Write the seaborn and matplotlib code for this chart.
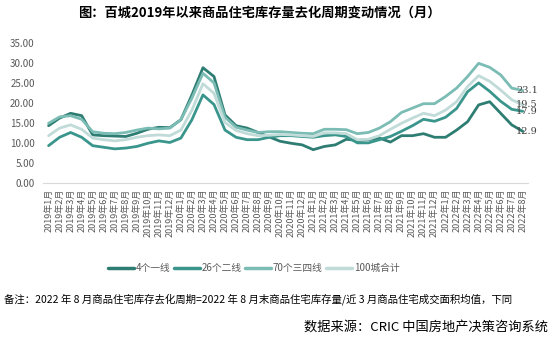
import matplotlib
matplotlib.use("Agg")
import matplotlib.pyplot as plt
import seaborn as sns
import pandas as pd
import numpy as np

years = [2019] * 12 + [2020] * 12 + [2021] * 12 + [2022] * 8
months = list(range(1, 13)) * 3 + list(range(1, 9))
labels = [f"{y}年{m}月" for y, m in zip(years, months)]

tier1 = [14.3, 16.2, 17.4, 16.8, 12.0, 11.8, 11.7, 11.6, 12.4, 13.4, 13.9, 13.8,
         15.8, 22.0, 28.8, 26.6, 17.0, 14.3, 13.7, 12.6, 11.5, 10.4, 9.9, 9.5,
         8.3, 9.1, 9.5, 10.9, 10.6, 10.8, 11.2, 10.2, 11.8, 11.8, 12.3, 11.4,
         11.4, 13.2, 15.3, 19.5, 20.3, 17.4, 14.5, 12.9]
tier2 = [9.3, 11.4, 12.6, 11.4, 9.3, 8.9, 8.5, 8.7, 9.1, 9.9, 10.5, 10.1,
         11.2, 15.8, 22.0, 19.6, 13.2, 11.4, 10.8, 10.8, 11.4, 11.8, 11.8, 11.6,
         11.4, 11.8, 12.0, 11.6, 10.0, 10.0, 10.8, 11.6, 12.9, 14.3, 15.9, 15.4,
         16.4, 18.6, 22.8, 25.0, 22.9, 20.4, 18.4, 17.9]
tier3 = [14.9, 16.5, 16.8, 15.9, 12.8, 12.4, 12.3, 12.6, 13.2, 13.7, 13.5, 13.7,
         15.8, 21.2, 27.4, 25.0, 16.4, 13.9, 13.2, 12.6, 12.8, 12.8, 12.6, 12.4,
         12.3, 13.4, 13.4, 13.3, 12.3, 12.6, 13.7, 15.3, 17.6, 18.7, 19.8, 19.8,
         21.6, 23.7, 26.6, 29.9, 28.9, 27.0, 23.7, 23.1]
total = [11.8, 13.7, 14.5, 13.4, 11.2, 10.8, 10.5, 10.8, 11.4, 11.8, 12.0, 11.8,
         13.2, 18.2, 24.8, 22.4, 15.1, 13.1, 12.3, 11.8, 11.9, 12.1, 12.0, 11.8,
         11.6, 12.5, 12.5, 12.3, 10.8, 10.9, 11.8, 13.4, 14.9, 16.2, 17.4, 16.8,
         18.2, 20.3, 24.1, 26.8, 25.4, 23.2, 20.8, 19.5]

series_names = ["4个一线", "26个二线", "70个三四线", "100城合计"]
end_labels = ["12.9", "17.9", "23.1", "19.5"]
colors = ["#2E7D73", "#3A968C", "#7BBCB5", "#C0DBD8"]

sns.set_theme(style="white")
plt.rcParams['font.family'] = ['Noto Sans CJK SC', 'DejaVu Sans']

rows = []
for name, vals in zip(series_names, [tier1, tier2, tier3, total]):
    for i, v in enumerate(vals):
        rows.append({"idx": i, "value": v, "series": name})
df = pd.DataFrame(rows)

fig = plt.figure(figsize=(5.52, 3.38), dpi=100)
ax = fig.add_axes([0.078, 0.459, 0.879, 0.414])

sns.lineplot(data=df, x="idx", y="value", hue="series", hue_order=series_names,
             palette=colors, linewidth=2.0, ax=ax, legend=True)

ax.set_xlim(-0.5, len(labels) - 0.5)
ax.set_ylim(0, 35)
ax.set_yticks(np.arange(0, 35.1, 5))
ax.set_yticklabels([f"{v:.2f}" for v in np.arange(0, 35.1, 5)], fontsize=7, color="#595959")
ax.set_xticks(range(len(labels)))
ax.set_xticklabels(labels, rotation=90, fontsize=6.5, color="#595959")
ax.set_xticks(np.arange(-0.5, len(labels), 1), minor=True)
ax.tick_params(axis="x", which="major", length=0, pad=4)
ax.tick_params(axis="x", which="minor", length=3, color="#D9D9D9", width=0.8)
ax.tick_params(axis="y", length=0, pad=6)
ax.set_xlabel("")
ax.set_ylabel("")
for s in ["top", "right", "left"]:
    ax.spines[s].set_visible(False)
ax.spines["bottom"].set_color("#D9D9D9")
ax.spines["bottom"].set_linewidth(0.8)
ax.grid(False)

last = len(labels) - 1
for vals, lab in zip([tier1, tier2, tier3, total], end_labels):
    ax.text(last - 0.6, vals[-1], lab, fontsize=7, color="#404040",
            ha="left", va="center", family=["DejaVu Serif"])

handles, lbls = ax.get_legend_handles_labels()
ax.legend_.remove()
leg = fig.legend(handles, lbls, loc="center", bbox_to_anchor=(0.46, 0.207), ncol=4,
                 frameon=False, fontsize=7, handlelength=2.6, handletextpad=0.2,
                 columnspacing=0.4, labelcolor="#595959")
for h in leg.get_lines():
    h.set_linewidth(2.5)

fig.text(0.47, 0.963, "图：百城2019年以来商品住宅库存量去化周期变动情况（月）",
         ha="center", va="center", fontsize=9.5, fontweight="bold", color="#000000")
fig.text(0.008, 0.115,
         "备注：2022 年 8 月商品住宅库存去化周期=2022 年 8 月末商品住宅库存量/近 3 月商品住宅成交面积均值，下同",
         ha="left", va="center", fontsize=7.5, color="#000000")
fig.text(0.993, 0.033, "数据来源：CRIC 中国房地产决策咨询系统",
         ha="right", va="center", fontsize=9.5, color="#000000")

fig.savefig("out.png", dpi=100)
